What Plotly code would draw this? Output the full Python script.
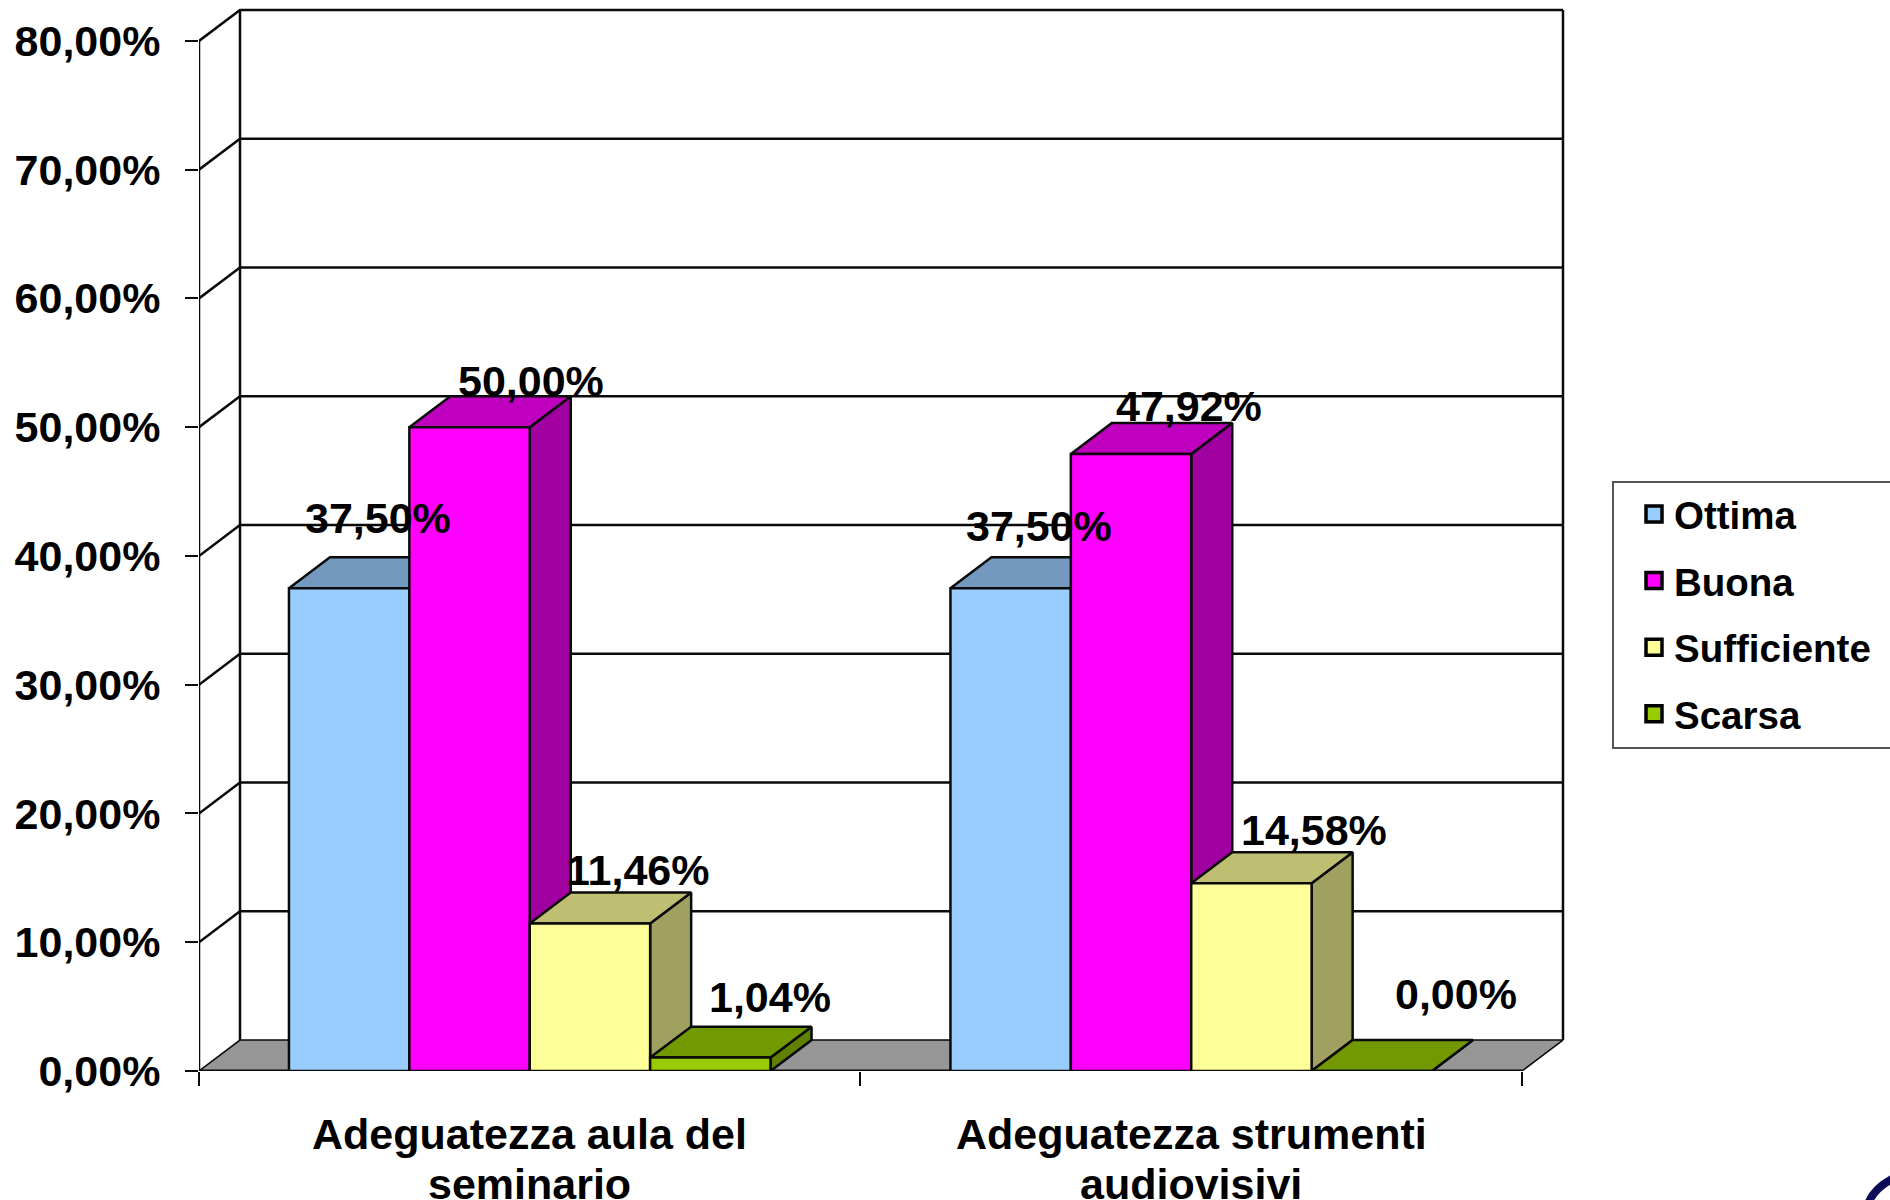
import plotly.graph_objects as go

categories = ["Adeguatezza aula del<br>seminario", "Adeguatezza strumenti<br>audiovisivi"]
series_names = ["Ottima", "Buona", "Sufficiente", "Scarsa"]
aula_values = [37.50, 50.00, 11.46, 1.04]
strumenti_values = [37.50, 47.92, 14.58, 0.00]
y_ticks = [0, 10, 20, 30, 40, 50, 60, 70, 80]

front_colors = ["#99CCFF", "#FF00FF", "#FFFF99", "#99CC00"]
top_colors = ["#7399BF", "#BF00BF", "#BFBF73", "#739900"]
side_colors = ["#6080A0", "#A000A0", "#A0A060", "#608000"]

# label offsets (px) from the centre of each bar's front top edge
aula_shift = [(29, 70), (61, 46), (48, 53), (60, 61)]
strumenti_shift = [(28, 62), (58, 48), (63, 53), (84, 77)]

BAR_W = 0.182
GAP = (1 - 4 * BAR_W) / 2
DX = 0.062
DY = 2.4
BLACK = "#0A0A0A"
FONT = "Liberation Sans"
ML, MR, MT, MB = 199, 320, 4, 129
W, H = 1890, 1200


def px(xp):
    return (xp - ML) / (W - ML - MR)


def py(yp):
    return 1 - (yp - MT) / (H - MT - MB)


fig = go.Figure()


def poly(xs, ys, fill, lw=2.5, color=BLACK):
    fig.add_trace(go.Scatter(x=xs, y=ys, mode="lines", fill="toself", fillcolor=fill,
                             line=dict(color=color, width=lw), cliponaxis=False,
                             hoverinfo="skip", showlegend=False))


def line(xs, ys, lw=2.5):
    fig.add_trace(go.Scatter(x=xs, y=ys, mode="lines", line=dict(color=BLACK, width=lw),
                             cliponaxis=False, hoverinfo="skip", showlegend=False))


n = len(categories)
# walls and floor
line([0, 0], [0, y_ticks[-1]])
line([DX, DX], [DY, y_ticks[-1] + DY])
line([n + DX, n + DX], [DY, y_ticks[-1] + DY])
for v in y_ticks[1:]:
    line([0, DX, n + DX], [v, v + DY, v + DY])
poly([0, n, n + DX, DX, 0], [0, 0, DY, DY, 0], "#969696", lw=1.5)
line([0, n], [0, 0], lw=3)

# bars
annotations = []
for i, (vals, shifts) in enumerate(zip([aula_values, strumenti_values], [aula_shift, strumenti_shift])):
    for j, v in enumerate(vals):
        x0 = i + GAP + j * BAR_W
        x1 = x0 + BAR_W
        poly([x1, x1 + DX, x1 + DX, x1, x1], [0, DY, v + DY, v, 0], side_colors[j])
        poly([x0, x1, x1 + DX, x0 + DX, x0], [v, v, v + DY, v + DY, v], top_colors[j])
        poly([x0, x1, x1, x0, x0], [0, 0, v, v, 0], front_colors[j])
        annotations.append(dict(x=(x0 + x1) / 2, y=v, xref="x", yref="y", showarrow=False,
                                text=f"{v:.2f}%".replace(".", ","),
                                xshift=shifts[j][0], yshift=shifts[j][1],
                                xanchor="center", yanchor="middle",
                                font=dict(family=FONT, size=43, color="black", weight=700)))

# category labels
for i, cat in enumerate(categories):
    for k, part in enumerate(cat.split("<br>")):
        annotations.append(dict(x=i + 0.5, y=0, xref="x", yref="y", showarrow=False, text=part,
                                yshift=-63 - 50 * k, xanchor="center", yanchor="middle",
                                font=dict(family=FONT, size=43, color="black", weight=700)))

# legend entries
for name, col in zip(series_names, front_colors):
    fig.add_trace(go.Scatter(x=[None], y=[None], mode="markers", name=name, legendgroup=name,
                             marker=dict(symbol="square", size=16, color=col,
                                         line=dict(color="black", width=3.5))))

shapes = [
    # legend frame, running off the right edge of the picture
    dict(type="rect", xref="paper", yref="paper", x0=px(1613), x1=px(1960), y0=py(748), y1=py(482),
         line=dict(color="#555555", width=2), fillcolor="white", layer="below"),
    # corner of the logo cut off by the picture
    dict(type="path", xref="paper", yref="paper",
         path=f"M {px(1868)} {py(1204)} Q {px(1874)} {py(1188)} {px(1894)} {py(1178)}",
         line=dict(color="#0B0B55", width=8), layer="above"),
]

fig.update_layout(
    width=W, height=H, autosize=False,
    margin=dict(l=ML, r=MR, t=MT, b=MB, pad=0, autoexpand=False),
    paper_bgcolor="white", plot_bgcolor="white",
    showlegend=True,
    annotations=annotations,
    shapes=shapes,
    legend=dict(x=px(1634), y=py(614), xanchor="left", yanchor="middle", bgcolor="rgba(0,0,0,0)",
                borderwidth=0, tracegroupgap=13.5,
                itemclick=False, itemdoubleclick=False, itemsizing="trace",
                font=dict(family=FONT, size=38.5, color="black", weight=700)),
    xaxis=dict(range=[0, n + DX + 0.0106], showgrid=False, zeroline=False, showline=False,
               tickmode="array", tickvals=[0, 1, 2], ticktext=["", "", ""], ticks="outside",
               ticklen=14, tickwidth=1.5, tickcolor=BLACK),
    yaxis=dict(range=[0, y_ticks[-1] + DY + 0.466], showgrid=False, zeroline=False, showline=False,
               tickmode="array", tickvals=y_ticks,
               ticktext=[f"{v},00%" for v in y_ticks], ticks="outside", ticklen=13,
               tickwidth=1.5, tickcolor=BLACK, ticklabelstandoff=16,
               tickfont=dict(family=FONT, size=43, color="black", weight=700)),
)

fig.write_html("out.html", config={"displayModeBar": False},
               post_script="document.body.style.margin='0';")
